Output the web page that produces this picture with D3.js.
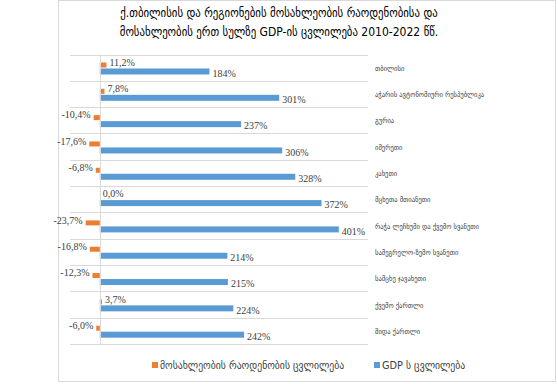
<!doctype html>
<html>
  <head>
    <meta charset="utf-8">
    <script src="https://d3js.org/d3.v7.min.js"></script>
    <style>
      body { margin: 0; background: #fff; }
    </style>
  </head>
  <body>
    <script>
    var regions = [
      "თბილისი",
      "აჭარის ავტონომიური რესპუბლიკა",
      "გურია",
      "იმერეთი",
      "კახეთი",
      "მცხეთა მთიანეთი",
      "რაჭა ლეჩხუმი და ქვემო სვანეთი",
      "სამეგრელო-ზემო სვანეთი",
      "სამცხე ჯავახეთი",
      "ქვემო ქართლი",
      "შიდა ქართლი"
    ];
    var popChange = [11.2, 7.8, -10.4, -17.6, -6.8, 0.0, -23.7, -16.8, -12.3, 3.7, -6.0];
    var gdpChange = [184, 301, 237, 306, 328, 372, 401, 214, 215, 224, 242];
    var seriesNames = ["მოსახლეობის რაოდენობის ცვლილება", "GDP ს ცვლილება"];
    var titleLines = [
      "ქ.თბილისის და რეგიონების მოსახლეობის რაოდენობისა და",
      "მოსახლეობის ერთ სულზე GDP-ის ცვლილება 2010-2022 წწ."
    ];

    var width = 558, height = 384;
    var orange = "#ed7d31", blue = "#5b9bd5";
    var geoFont = "'DejaVu Sans Condensed', 'DejaVu Sans', sans-serif";
    var numFont = "'Liberation Serif', serif";

    var svg = d3.select("body").append("svg")
      .attr("width", width)
      .attr("height", height);

    // chart frame
    svg.append("rect")
      .attr("x", 58.5).attr("y", 0.5)
      .attr("width", 497).attr("height", 381)
      .attr("fill", "#fff")
      .attr("stroke", "#d9d9d9");

    // title
    svg.selectAll(".title")
      .data(titleLines)
      .enter().append("text")
      .attr("class", "title")
      .attr("x", 279)
      .attr("y", function(d, i) { return 13 + i * 19; })
      .attr("text-anchor", "middle")
      .attr("dominant-baseline", "middle")
      .attr("font-family", geoFont)
      .attr("font-size", "12px")
      .attr("fill", "#000")
      .text(function(d) { return d; });

    var x = d3.scaleLinear().domain([-50, 450]).range([70, 368]);
    var y = d3.scaleBand().domain(regions).range([54.5, 344]);

    var g = svg.append("g");

    // horizontal separators
    g.selectAll(".grid")
      .data(regions.concat(["end"]))
      .enter().append("line")
      .attr("x1", 70).attr("x2", 368)
      .attr("y1", function(d, i) { return Math.round(54.5 + i * y.step()) + 0.5; })
      .attr("y2", function(d, i) { return Math.round(54.5 + i * y.step()) + 0.5; })
      .attr("stroke", "#d9d9d9");

    // category labels
    g.selectAll(".cat")
      .data(regions)
      .enter().append("text")
      .attr("x", 375)
      .attr("y", function(d) { return y(d) + y.bandwidth() / 2 + 1; })
      .attr("dominant-baseline", "middle")
      .attr("font-family", geoFont)
      .attr("font-size", "7.3px")
      .attr("fill", "#404040")
      .text(function(d) { return d; });

    // population bars
    g.selectAll(".pop")
      .data(popChange)
      .enter().append("rect")
      .attr("x", function(d) { return x(Math.min(0, d)); })
      .attr("y", function(d, i) { return y(regions[i]) + 8; })
      .attr("width", function(d) { return Math.abs(x(d) - x(0)); })
      .attr("height", 5)
      .attr("fill", orange);

    // gdp bars
    g.selectAll(".gdp")
      .data(gdpChange)
      .enter().append("rect")
      .attr("x", x(0))
      .attr("y", function(d, i) { return y(regions[i]) + 14; })
      .attr("width", function(d) { return x(d) - x(0); })
      .attr("height", 6)
      .attr("fill", blue);

    // zero axis
    g.append("line")
      .attr("x1", Math.round(x(0)) + 0.5).attr("x2", Math.round(x(0)) + 0.5)
      .attr("y1", 54.5).attr("y2", 344)
      .attr("stroke", "#d9d9d9");

    function fmt(v) { return v.toFixed(1).replace(".", ",") + "%"; }

    g.selectAll(".popLbl")
      .data(popChange)
      .enter().append("text")
      .attr("x", function(d) { return d >= 0 ? x(d) + 3 : x(d) - 3; })
      .attr("y", function(d, i) { return y(regions[i]) + 9; })
      .attr("text-anchor", function(d) { return d >= 0 ? "start" : "end"; })
      .attr("dominant-baseline", "middle")
      .attr("font-family", numFont)
      .attr("font-size", "10px")
      .attr("fill", "#404040")
      .text(fmt);

    g.selectAll(".gdpLbl")
      .data(gdpChange)
      .enter().append("text")
      .attr("x", function(d) { return x(d) + 3; })
      .attr("y", function(d, i) { return y(regions[i]) + 20; })
      .attr("dominant-baseline", "middle")
      .attr("font-family", numFont)
      .attr("font-size", "10px")
      .attr("fill", "#404040")
      .text(function(d) { return d + "%"; });

    // legend
    var legX = [152, 374];
    var leg = svg.selectAll(".leg")
      .data(seriesNames)
      .enter().append("g")
      .attr("transform", function(d, i) { return "translate(" + legX[i] + ",365)"; });
    leg.append("rect")
      .attr("x", 0).attr("y", -3)
      .attr("width", 6).attr("height", 6)
      .attr("fill", function(d, i) { return i === 0 ? orange : blue; });
    leg.append("text")
      .attr("x", 8).attr("y", 1)
      .attr("dominant-baseline", "middle")
      .attr("font-family", geoFont)
      .attr("font-size", "10.8px")
      .attr("fill", "#404040")
      .text(function(d) { return d; });
    </script>
  </body>
</html>
